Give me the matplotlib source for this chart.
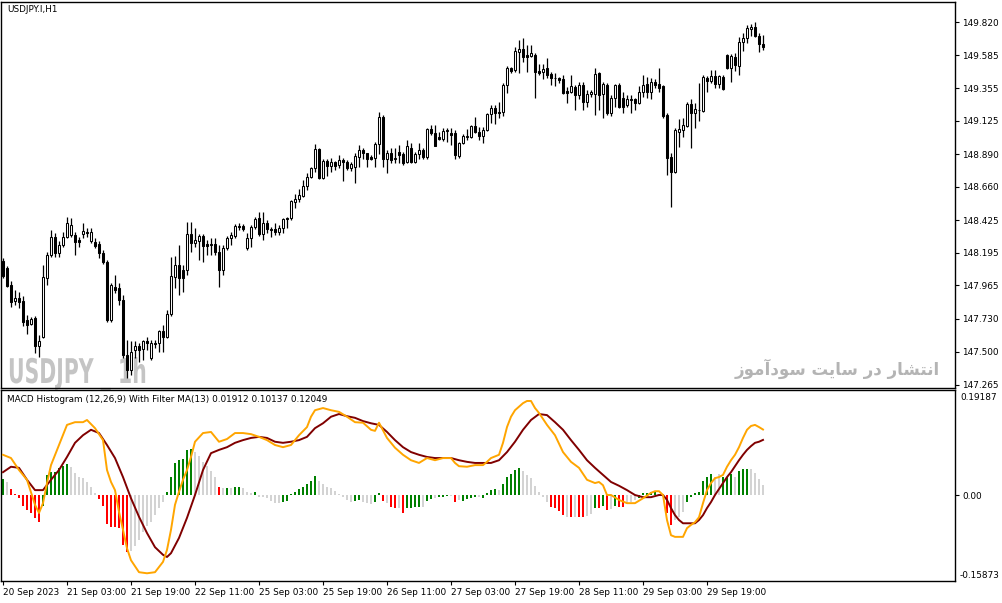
import matplotlib
matplotlib.use('Agg')
import matplotlib.pyplot as plt
from matplotlib.patheffects import AbstractPathEffect
from matplotlib.transforms import Affine2D
import numpy as np

plt.rcParams['font.family'] = ['DejaVu Sans']

# ---- price data (H1 bars) ----
opens = [148.138, 148.088, 147.969, 147.856, 147.877, 147.856, 147.722, 147.694, 147.736, 147.539,
         147.603, 148.018, 148.180, 148.307, 148.194, 148.250, 148.307, 148.321, 148.321, 148.285,
         148.328, 148.342, 148.278, 148.271, 148.257, 148.194, 148.131, 147.722, 147.955, 147.948,
         147.863, 147.476, 147.370, 147.511, 147.539, 147.518, 147.574, 147.455, 147.560, 147.560,
         147.645, 147.603, 147.764, 148.025, 148.109, 148.074, 148.074, 148.328, 148.264, 148.278,
         148.314, 148.257, 148.250, 148.257, 148.201, 148.074, 148.229, 148.299, 148.314, 148.384,
         148.384, 148.229, 148.299, 148.377, 148.440, 148.328, 148.405, 148.363, 148.363, 148.342,
         148.370, 148.440, 148.440, 148.553, 148.574, 148.595, 148.665, 148.732, 148.789, 148.926,
         148.725, 148.838, 148.803, 148.831, 148.810, 148.845, 148.831, 148.789, 148.796, 148.873,
         148.919, 148.901, 148.873, 148.866, 148.961, 149.151, 148.859, 148.901, 148.852, 148.908,
         148.894, 148.831, 148.933, 148.831, 148.894, 148.919, 148.873, 149.067, 149.039, 149.011,
         148.997, 149.053, 149.039, 149.039, 148.880, 148.968, 149.011, 149.011, 149.088, 149.046,
         149.018, 149.060, 149.172, 149.215, 149.187, 149.187, 149.377, 149.496, 149.482, 149.609,
         149.630, 149.588, 149.581, 149.588, 149.475, 149.468, 149.496, 149.454, 149.426, 149.426,
         149.419, 149.334, 149.327, 149.363, 149.306, 149.377, 149.257, 149.313, 149.313, 149.461,
         149.313, 149.377, 149.179, 149.285, 149.377, 149.285, 149.236, 149.278, 149.278, 149.250,
         149.327, 149.384, 149.327, 149.398, 149.384, 149.370, 149.165, 148.873, 148.761, 149.046,
         149.060, 149.088, 149.243, 149.179, 149.201, 149.194, 149.426, 149.405, 149.440, 149.384,
         149.433, 149.588, 149.496, 149.574, 149.510, 149.679, 149.707, 149.771, 149.785, 149.722,
         149.665]
highs = [148.159, 148.102, 147.997, 147.933, 147.919, 147.891, 147.757, 147.743, 147.750, 147.617,
         148.109, 148.201, 148.356, 148.334, 148.278, 148.342, 148.447, 148.440, 148.342, 148.307,
         148.405, 148.370, 148.370, 148.299, 148.278, 148.215, 148.145, 147.983, 148.039, 147.983,
         147.898, 147.581, 147.574, 147.574, 147.560, 147.581, 147.603, 147.581, 147.581, 147.652,
         147.687, 147.792, 148.166, 148.173, 148.250, 148.109, 148.412, 148.412, 148.370, 148.328,
         148.328, 148.285, 148.299, 148.299, 148.250, 148.250, 148.314, 148.342, 148.398, 148.405,
         148.398, 148.334, 148.391, 148.447, 148.482, 148.482, 148.426, 148.377, 148.405, 148.391,
         148.440, 148.447, 148.567, 148.609, 148.644, 148.708, 148.754, 148.796, 148.961, 148.933,
         148.859, 148.859, 148.866, 148.838, 148.887, 148.866, 148.845, 148.831, 148.901, 148.954,
         148.933, 148.901, 148.887, 148.975, 149.187, 149.165, 148.919, 148.933, 148.933, 148.954,
         148.908, 148.989, 148.968, 148.908, 148.968, 148.933, 149.074, 149.095, 149.095, 149.046,
         149.074, 149.074, 149.074, 149.060, 148.975, 149.032, 149.067, 149.095, 149.151, 149.081,
         149.081, 149.179, 149.236, 149.236, 149.257, 149.391, 149.510, 149.503, 149.644, 149.693,
         149.707, 149.658, 149.658, 149.602, 149.524, 149.524, 149.567, 149.468, 149.461, 149.433,
         149.447, 149.363, 149.447, 149.377, 149.398, 149.398, 149.341, 149.341, 149.496, 149.468,
         149.398, 149.391, 149.306, 149.384, 149.391, 149.327, 149.306, 149.306, 149.285, 149.370,
         149.447, 149.433, 149.426, 149.419, 149.496, 149.377, 149.179, 148.901, 149.074, 149.137,
         149.144, 149.257, 149.278, 149.250, 149.391, 149.447, 149.440, 149.482, 149.482, 149.447,
         149.447, 149.595, 149.595, 149.602, 149.715, 149.743, 149.799, 149.806, 149.820, 149.743,
         149.729]
lows = [148.018, 147.955, 147.814, 147.828, 147.807, 147.680, 147.624, 147.687, 147.490, 147.462,
        147.596, 147.969, 148.166, 148.166, 148.166, 148.236, 148.299, 148.307, 148.180, 148.236,
        148.299, 148.307, 148.264, 148.229, 148.159, 148.117, 147.708, 147.708, 147.912, 147.828,
        147.455, 147.314, 147.335, 147.455, 147.426, 147.440, 147.511, 147.440, 147.525, 147.497,
        147.497, 147.596, 147.750, 147.948, 147.898, 147.919, 148.039, 148.201, 148.236, 148.145,
        148.131, 148.180, 148.180, 148.180, 147.955, 148.039, 148.215, 148.250, 148.299, 148.356,
        148.349, 148.215, 148.236, 148.363, 148.314, 148.285, 148.334, 148.307, 148.321, 148.321,
        148.334, 148.370, 148.426, 148.511, 148.553, 148.588, 148.634, 148.725, 148.761, 148.718,
        148.718, 148.739, 148.761, 148.775, 148.789, 148.704, 148.775, 148.768, 148.690, 148.796,
        148.859, 148.796, 148.845, 148.796, 148.894, 148.796, 148.754, 148.824, 148.824, 148.824,
        148.810, 148.824, 148.824, 148.824, 148.859, 148.859, 148.859, 149.025, 148.947, 148.989,
        148.982, 148.975, 148.954, 148.859, 148.866, 148.961, 148.989, 149.004, 149.039, 148.989,
        148.968, 149.053, 149.109, 149.102, 149.144, 149.158, 149.320, 149.461, 149.468, 149.461,
        149.539, 149.468, 149.574, 149.285, 149.447, 149.419, 149.426, 149.377, 149.370, 149.391,
        149.313, 149.250, 149.320, 149.201, 149.278, 149.201, 149.222, 149.292, 149.165, 149.201,
        149.144, 149.165, 149.158, 149.222, 149.215, 149.179, 149.222, 149.179, 149.201, 149.243,
        149.292, 149.285, 149.278, 149.355, 149.327, 149.144, 148.746, 148.518, 148.754, 148.940,
        149.011, 149.081, 148.933, 149.074, 149.123, 149.187, 149.327, 149.391, 149.355, 149.355,
        149.341, 149.489, 149.398, 149.475, 149.447, 149.616, 149.672, 149.722, 149.715, 149.609,
        149.623]
closes = [148.032, 147.962, 147.849, 147.877, 147.849, 147.708, 147.687, 147.729, 147.539, 147.574,
          148.025, 148.180, 148.307, 148.194, 148.250, 148.307, 148.405, 148.391, 148.271, 148.271,
          148.349, 148.334, 148.342, 148.243, 148.194, 148.131, 147.722, 147.969, 147.933, 147.863,
          147.476, 147.370, 147.497, 147.539, 147.511, 147.574, 147.560, 147.560, 147.553, 147.645,
          147.603, 147.764, 148.032, 148.109, 148.018, 148.018, 148.328, 148.264, 148.285, 148.314,
          148.243, 148.243, 148.257, 148.201, 148.074, 148.229, 148.299, 148.321, 148.384, 148.377,
          148.363, 148.299, 148.377, 148.433, 148.328, 148.405, 148.363, 148.356, 148.342, 148.370,
          148.433, 148.433, 148.560, 148.574, 148.602, 148.665, 148.732, 148.789, 148.926, 148.725,
          148.838, 148.803, 148.831, 148.803, 148.845, 148.831, 148.789, 148.817, 148.880, 148.919,
          148.901, 148.859, 148.859, 148.961, 149.151, 148.859, 148.901, 148.845, 148.866, 148.887,
          148.824, 148.947, 148.831, 148.894, 148.919, 148.873, 149.067, 149.039, 148.947, 148.997,
          149.053, 149.060, 149.025, 148.887, 148.968, 149.018, 149.018, 149.088, 149.046, 149.018,
          149.060, 149.172, 149.215, 149.179, 149.179, 149.377, 149.496, 149.475, 149.616, 149.630,
          149.574, 149.574, 149.602, 149.468, 149.461, 149.489, 149.447, 149.426, 149.424, 149.412,
          149.320, 149.320, 149.370, 149.306, 149.377, 149.257, 149.313, 149.327, 149.454, 149.306,
          149.384, 149.179, 149.285, 149.377, 149.222, 149.222, 149.278, 149.271, 149.250, 149.327,
          149.377, 149.327, 149.398, 149.377, 149.355, 149.158, 148.866, 148.761, 149.060, 149.067,
          149.095, 149.243, 149.179, 149.208, 149.199, 149.433, 149.405, 149.440, 149.384, 149.440,
          149.348, 149.496, 149.581, 149.517, 149.679, 149.707, 149.778, 149.785, 149.722, 149.665,
          149.644]

price_ticks = [149.820, 149.585, 149.355, 149.125, 148.890, 148.660, 148.425,
               148.195, 147.965, 147.730, 147.500, 147.265]

# ---- MACD histogram with filter MA ----
hist = [0.029, 0.024, 0.011, 0.002, -0.006, -0.020, -0.028, -0.033, -0.042, -0.050,
        -0.020, 0.037, 0.042, 0.042, 0.050, 0.053, 0.057, 0.052, 0.040, 0.033,
        0.031, 0.024, 0.015, 0.004, -0.007, -0.020, -0.053, -0.059, -0.059, -0.061,
        -0.092, -0.105, -0.103, -0.094, -0.083, -0.068, -0.057, -0.050, -0.037, -0.024,
        -0.013, 0.006, 0.033, 0.059, 0.064, 0.066, 0.083, 0.085, 0.079, 0.072,
        0.061, 0.053, 0.044, 0.033, 0.015, 0.013, 0.013, 0.013, 0.015, 0.015,
        0.013, 0.006, 0.004, 0.006, -0.004, -0.004, -0.006, -0.011, -0.015, -0.015,
        -0.013, -0.011, 0.001, 0.006, 0.011, 0.015, 0.020, 0.026, 0.035, 0.026,
        0.020, 0.015, 0.013, 0.007, 0.002, -0.004, -0.009, -0.013, -0.011, -0.009,
        -0.013, -0.015, -0.017, -0.013, 0.004, -0.011, -0.015, -0.022, -0.024, -0.024,
        -0.033, -0.024, -0.024, -0.022, -0.022, -0.022, -0.011, -0.007, -0.006, -0.004,
        -0.004, -0.002, -0.001, -0.013, -0.009, -0.011, -0.007, -0.006, -0.004, -0.004,
        -0.006, 0.004, 0.009, 0.011, 0.009, 0.020, 0.033, 0.039, 0.046, 0.050,
        0.044, 0.037, 0.031, 0.017, 0.006, -0.004, -0.013, -0.022, -0.024, -0.029,
        -0.037, -0.040, -0.040, -0.040, -0.040, -0.040, -0.039, -0.035, -0.024, -0.024,
        -0.020, -0.028, -0.026, -0.020, -0.022, -0.022, -0.017, -0.013, -0.009, -0.006,
        0.004, 0.004, 0.006, 0.006, 0.002, -0.004, -0.033, -0.055, -0.046, -0.040,
        -0.031, -0.013, -0.004, 0.004, 0.006, 0.026, 0.033, 0.039, 0.033, 0.039,
        0.033, 0.033, 0.039, 0.033, 0.044, 0.048, 0.048, 0.048, 0.040, 0.029,
        0.01912]
hist_codes = ("GSRRRRRRRR" "GGGGGGGSSS" "SSSSRRRRRR" "RRSSSSSSSS" "SGGGGGGGSS"
              "SSSSRSGSGG" "SSSGSSSSSS" "GGGGGGGGGS" "SSSSSSSSGG" "SSSGGRSRRS"
              "RGGGGSGGSG" "GGSRSGGGGS" "GGGGSGGGGG" "SSSSSSSRRR" "RSRSRRSSGR"
              "GRSGRRSSSG" "GGGGSSRRSS" "SGGGGGGGSS" "GGGSGGGSSS" "S")

macd_bars = [0, 2, 4, 6, 8, 9, 10, 11, 12, 14, 16, 18, 20, 21, 23, 25, 26, 27, 28, 29,
             30, 31, 32, 34, 36, 38, 40, 41, 42, 43, 44, 45, 46, 47, 48, 50, 52, 54, 56, 58,
             60, 62, 64, 66, 68, 70, 72, 74, 76, 77, 78, 80, 82, 84, 86, 88, 90, 92, 93, 94,
             96, 98, 100, 102, 104, 106, 108, 110, 112, 113, 114, 116, 118, 120, 121, 122, 124, 125, 126, 127,
             128, 130, 131, 132, 133, 134, 136, 138, 140, 142, 144, 146, 148, 149, 150, 151, 152, 154, 156, 158,
             160, 162, 163, 164, 165, 166, 167, 168, 170, 171, 172, 173, 174, 175, 176, 177, 178, 179, 180, 181,
             182, 183, 184, 185, 186, 187, 188, 189, 190]
macd_vals = [0.074, 0.068, 0.046, 0.028, -0.018, -0.033, -0.015, 0.022, 0.055, 0.092,
             0.129, 0.134, 0.134, 0.138, 0.123, 0.101, 0.046, 0.024, 0.009, -0.031,
             -0.064, -0.098, -0.120, -0.142, -0.144, -0.142, -0.123, -0.101, -0.064, -0.018,
             0.006, 0.028, 0.046, 0.070, 0.098, 0.114, 0.116, 0.098, 0.103, 0.114,
             0.114, 0.112, 0.107, 0.101, 0.092, 0.088, 0.092, 0.110, 0.125, 0.144,
             0.156, 0.160, 0.156, 0.153, 0.144, 0.134, 0.133, 0.120, 0.118, 0.133,
             0.105, 0.087, 0.074, 0.064, 0.059, 0.068, 0.064, 0.068, 0.068, 0.059,
             0.053, 0.052, 0.055, 0.055, 0.061, 0.068, 0.074, 0.096, 0.125, 0.144,
             0.156, 0.169, 0.173, 0.173, 0.160, 0.151, 0.129, 0.110, 0.079, 0.061,
             0.050, 0.028, 0.022, 0.024, 0.018, 0.000, 0.000, -0.009, -0.015, -0.015,
             -0.006, 0.004, 0.007, 0.007, 0.000, -0.046, -0.074, -0.077, -0.077, -0.061,
             -0.055, -0.050, -0.041, -0.015, 0.009, 0.022, 0.031, 0.033, 0.037, 0.052,
             0.064, 0.074, 0.088, 0.105, 0.120, 0.127, 0.129, 0.125, 0.12049]

signal_bars = [0, 2, 4, 6, 8, 10, 12, 14, 16, 18, 20, 22, 24, 26, 28, 30, 32, 34, 36, 38,
               40, 41, 42, 44, 46, 48, 50, 52, 54, 56, 58, 60, 62, 64, 66, 68, 70, 72, 74, 76,
               78, 80, 82, 84, 86, 88, 90, 92, 94, 96, 98, 100, 102, 104, 106, 108, 110, 112, 114, 116,
               118, 120, 122, 124, 126, 128, 130, 132, 134, 136, 138, 140, 142, 144, 146, 148, 150, 152, 154, 156,
               158, 160, 162, 164, 165, 166, 167, 168, 169, 170, 172, 173, 174, 175, 176, 177, 178, 179, 180, 181,
               182, 183, 184, 185, 186, 187, 188, 189, 190]
signal_vals = [0.042, 0.052, 0.050, 0.028, 0.009, 0.009, 0.028, 0.046, 0.070, 0.096,
               0.110, 0.120, 0.114, 0.092, 0.068, 0.033, -0.006, -0.040, -0.070, -0.096,
               -0.110, -0.114, -0.107, -0.079, -0.042, 0.000, 0.046, 0.077, 0.083, 0.088,
               0.096, 0.101, 0.105, 0.107, 0.105, 0.098, 0.096, 0.098, 0.101, 0.107,
               0.123, 0.132, 0.144, 0.149, 0.145, 0.142, 0.136, 0.132, 0.129, 0.116,
               0.101, 0.088, 0.079, 0.074, 0.070, 0.068, 0.068, 0.068, 0.064, 0.061,
               0.059, 0.059, 0.059, 0.064, 0.079, 0.098, 0.120, 0.138, 0.149, 0.147,
               0.134, 0.120, 0.101, 0.083, 0.064, 0.050, 0.037, 0.024, 0.017, 0.009,
               0.000, -0.004, -0.004, 0.000, 0.000, -0.009, -0.024, -0.037, -0.046, -0.052,
               -0.052, -0.052, -0.046, -0.037, -0.024, -0.013, 0.000, 0.011, 0.022, 0.033,
               0.042, 0.053, 0.064, 0.074, 0.083, 0.090, 0.096, 0.098, 0.10137]

time_bars = [0, 16, 32, 48, 64, 80, 96, 112, 128, 144, 160, 176]
time_labels = ['20 Sep 2023', '21 Sep 03:00', '21 Sep 19:00', '22 Sep 11:00', '25 Sep 03:00',
               '25 Sep 19:00', '26 Sep 11:00', '27 Sep 03:00', '27 Sep 19:00', '28 Sep 11:00',
               '29 Sep 03:00', '29 Sep 19:00']


class Squeeze(AbstractPathEffect):
    # narrows the glyphs horizontally, text stays a text object
    def __init__(self, sx):
        super().__init__()
        self.sx = sx

    def draw_path(self, renderer, gc, tpath, affine, rgbFace=None):
        renderer.draw_path(gc, tpath, Affine2D().scale(self.sx, 1) + affine, rgbFace)


# ---- figure in pixel coordinates ----
W, H = 1002, 603
fig = plt.figure(figsize=(W / 100, H / 100), dpi=100, facecolor='white')


def px_axes(x0, y0, x1, y1):
    return fig.add_axes([x0 / W, 1 - y1 / H, (x1 - x0) / W, (y1 - y0) / H])


ax = px_axes(1, 2, 955, 388)
ax2 = px_axes(1, 390, 955, 581)
fs = 6.4

# watermarks behind the candles
ax.text(7 / 954, (388 - 383) / 386, 'USDJPY _ 1h', transform=ax.transAxes, fontsize=24.5,
        fontweight='bold', color='#c4c4c4', va='baseline', zorder=0,
        path_effects=[Squeeze(0.6)])
ax.text((940 - 1) / 954, (388 - 369) / 386, 'ﺯﻮﻣﺁﺩﻮﺳ ﺖﯾﺎﺳ ﺭﺩ ﺭﺎﺸﺘﻧﺍ', transform=ax.transAxes,
        fontsize=12, fontweight='bold', color='#b4b4b4', ha='right', va='center', zorder=0)

# candles
o = np.array(opens)
c = np.array(closes)
x = np.arange(len(o))
up = c >= o
ax.vlines(x, lows, highs, color='black', linewidth=0.9, zorder=2)
body_lo = np.minimum(o, c)
body_h = np.maximum(np.abs(c - o), 0.0015)
ax.bar(x, body_h, bottom=body_lo, width=0.5,
       color=np.where(up, 'white', 'black'), edgecolor='black', linewidth=0.75, zorder=3)

ax.set_xlim(-0.5, 238)
ax.set_ylim(147.243, 149.961)
ax.set_xticks([])
ax.yaxis.tick_right()
ax.set_yticks(price_ticks)
ax.set_yticklabels(['%.3f' % t for t in price_ticks], fontsize=fs)
ax.tick_params(axis='y', direction='out', length=3, width=0.8, pad=2)

fig.text(7 / W, 1 - 10 / H, 'USDJPY.I,H1', fontsize=fs, va='center')

# MACD pane
cmap = {'G': '#008000', 'R': '#ff0000', 'S': '#d3d3d3'}
ax2.bar(np.arange(len(hist)), hist, width=0.72, color=[cmap[k] for k in hist_codes], zorder=2)
ax2.plot(signal_bars, signal_vals, color='#800000', linewidth=1.4, zorder=3)
ax2.plot(macd_bars, macd_vals, color='#ffa500', linewidth=1.4, zorder=4)
ax2.set_xlim(-0.5, 238)
ax2.set_ylim(-0.1582, 0.1932)
ax2.yaxis.tick_right()
ax2.set_yticks([0])
ax2.set_yticklabels(['0.00'], fontsize=fs)
ax2.tick_params(axis='y', direction='out', length=3, width=0.8, pad=2)
ax2.text(1.0052, 0.963, '0.19187', transform=ax2.transAxes, fontsize=fs, va='center')
ax2.text(1.0052, 0.029, '-0.15873', transform=ax2.transAxes, fontsize=fs, va='center')
ax2.set_xticks(time_bars)
ax2.set_xticklabels(time_labels, fontsize=fs, ha='left')
ax2.tick_params(axis='x', direction='out', length=3, width=0.8, pad=2)
fig.text(7 / W, 1 - 400 / H, 'MACD Histogram (12,26,9) With Filter MA(13) 0.01912 0.10137 0.12049',
         fontsize=fs, va='center')

for a in (ax, ax2):
    for s in a.spines.values():
        s.set_linewidth(1.0)
        s.set_color('black')

fig.savefig('out.png', dpi=100, facecolor='white')
